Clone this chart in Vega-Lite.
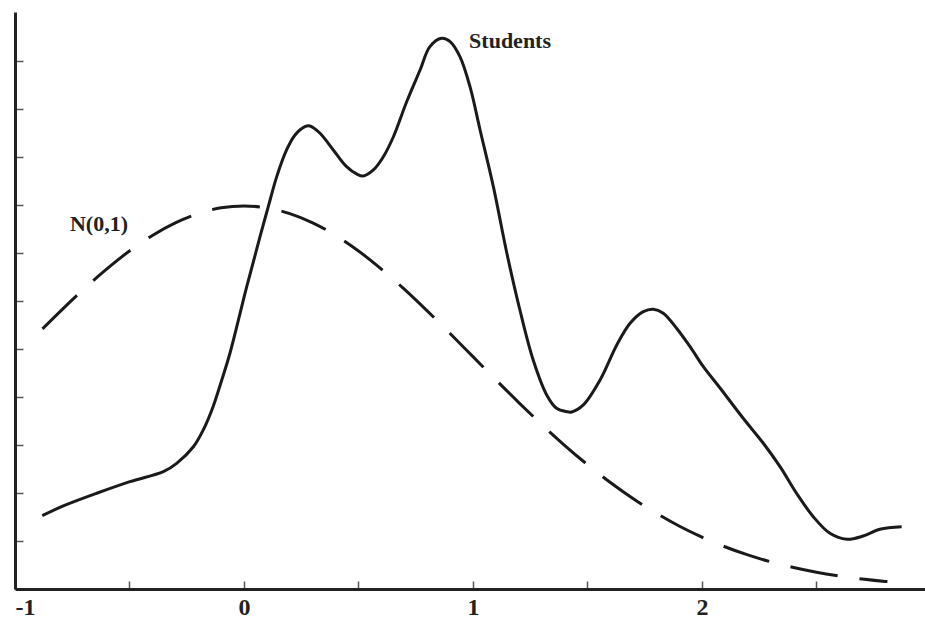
{
  "$schema": "https://vega.github.io/schema/vega-lite/v6.json",
  "width": 910,
  "height": 577,
  "autosize": "none",
  "padding": {"left": 15, "top": 12, "right": 0, "bottom": 33},
  "background": "white",
  "config": {"view": {"stroke": null}},
  "datasets": {
    "students": [
      {"x": -0.881, "y": 0.0764}, {"x": -0.789, "y": 0.0865}, {"x": -0.643, "y": 0.0997},
      {"x": -0.498, "y": 0.1118}, {"x": -0.352, "y": 0.1222}, {"x": -0.294, "y": 0.1309},
      {"x": -0.221, "y": 0.1482}, {"x": -0.178, "y": 0.1656}, {"x": -0.135, "y": 0.1899},
      {"x": -0.097, "y": 0.2177}, {"x": -0.061, "y": 0.2458}, {"x": 0.012, "y": 0.3149},
      {"x": 0.070, "y": 0.367}, {"x": 0.106, "y": 0.3982}, {"x": 0.143, "y": 0.4295},
      {"x": 0.186, "y": 0.4573}, {"x": 0.223, "y": 0.4729}, {"x": 0.266, "y": 0.4816},
      {"x": 0.288, "y": 0.4823}, {"x": 0.332, "y": 0.4747}, {"x": 0.390, "y": 0.4573},
      {"x": 0.448, "y": 0.4399}, {"x": 0.492, "y": 0.4323}, {"x": 0.521, "y": 0.4302},
      {"x": 0.565, "y": 0.4365}, {"x": 0.608, "y": 0.4500}, {"x": 0.652, "y": 0.4708},
      {"x": 0.710, "y": 0.5073}, {"x": 0.769, "y": 0.5406}, {"x": 0.812, "y": 0.5649},
      {"x": 0.863, "y": 0.5736}, {"x": 0.900, "y": 0.5701}, {"x": 0.943, "y": 0.5545},
      {"x": 0.987, "y": 0.5232}, {"x": 1.031, "y": 0.4781}, {"x": 1.089, "y": 0.4191},
      {"x": 1.148, "y": 0.3497}, {"x": 1.205, "y": 0.2906}, {"x": 1.263, "y": 0.2385},
      {"x": 1.322, "y": 0.2021}, {"x": 1.365, "y": 0.1882}, {"x": 1.409, "y": 0.1847},
      {"x": 1.431, "y": 0.1844}, {"x": 1.482, "y": 0.1917}, {"x": 1.555, "y": 0.2177},
      {"x": 1.628, "y": 0.2542}, {"x": 1.686, "y": 0.2768}, {"x": 1.744, "y": 0.2889},
      {"x": 1.787, "y": 0.2914}, {"x": 1.831, "y": 0.2872}, {"x": 1.889, "y": 0.2716},
      {"x": 1.948, "y": 0.2524}, {"x": 2.006, "y": 0.2316}, {"x": 2.079, "y": 0.2094},
      {"x": 2.180, "y": 0.1778}, {"x": 2.268, "y": 0.1518}, {"x": 2.341, "y": 0.1274},
      {"x": 2.413, "y": 0.0997}, {"x": 2.486, "y": 0.0753}, {"x": 2.559, "y": 0.058},
      {"x": 2.632, "y": 0.0518}, {"x": 2.704, "y": 0.0552}, {"x": 2.777, "y": 0.0622},
      {"x": 2.872, "y": 0.0649}
    ],
    "normal": [
      {"x": -0.88, "y": 0.2709}, {"x": -0.8, "y": 0.2897}, {"x": -0.7, "y": 0.3123},
      {"x": -0.6, "y": 0.3332}, {"x": -0.5, "y": 0.3521}, {"x": -0.4, "y": 0.3683},
      {"x": -0.3, "y": 0.3814}, {"x": -0.2, "y": 0.391}, {"x": -0.1, "y": 0.397},
      {"x": 0.0, "y": 0.3989}, {"x": 0.1, "y": 0.397}, {"x": 0.2, "y": 0.391},
      {"x": 0.3, "y": 0.3814}, {"x": 0.4, "y": 0.3683}, {"x": 0.5, "y": 0.3521},
      {"x": 0.6, "y": 0.3332}, {"x": 0.7, "y": 0.3123}, {"x": 0.8, "y": 0.2897},
      {"x": 0.9, "y": 0.2661}, {"x": 1.0, "y": 0.242}, {"x": 1.1, "y": 0.2179},
      {"x": 1.2, "y": 0.1942}, {"x": 1.3, "y": 0.1714}, {"x": 1.4, "y": 0.1497},
      {"x": 1.5, "y": 0.1295}, {"x": 1.6, "y": 0.1109}, {"x": 1.7, "y": 0.094},
      {"x": 1.8, "y": 0.079}, {"x": 1.9, "y": 0.0656}, {"x": 2.0, "y": 0.054},
      {"x": 2.1, "y": 0.044}, {"x": 2.2, "y": 0.0355}, {"x": 2.3, "y": 0.0283},
      {"x": 2.4, "y": 0.0224}, {"x": 2.5, "y": 0.0175}, {"x": 2.6, "y": 0.0136},
      {"x": 2.7, "y": 0.0104}, {"x": 2.8, "y": 0.0079}, {"x": 2.81, "y": 0.0077}
    ],
    "labels": [
      {"x": 0.983, "y": 0.5635, "text": "Students"},
      {"x": -0.76, "y": 0.373, "text": "N(0,1)"}
    ]
  },
  "encoding": {
    "x": {
      "field": "x", "type": "quantitative",
      "scale": {"domain": [-1, 2.974], "nice": false, "zero": false},
      "axis": {
        "title": null, "grid": false,
        "values": [-1, -0.5, 0, 0.5, 1, 1.5, 2, 2.5],
        "labelExpr": "datum.value % 1 === 0 ? '' + datum.value : ''",
        "domainColor": "#222", "domainWidth": 3,
        "tickColor": "#555", "tickWidth": 1.5, "tickSize": -8,
        "labelFont": "Liberation Serif", "labelFontWeight": "bold", "labelFontSize": 24,
        "labelColor": "#222", "labelPadding": 14, "labelBaseline": "top"
      }
    },
    "y": {
      "field": "y", "type": "quantitative",
      "scale": {"domain": [0, 0.601], "nice": false},
      "axis": {
        "title": null, "grid": false, "labels": false,
        "values": [0.05, 0.1, 0.15, 0.2, 0.25, 0.3, 0.35, 0.4, 0.45, 0.5, 0.55],
        "domainColor": "#222", "domainWidth": 3,
        "tickColor": "#555", "tickWidth": 1.5, "tickSize": -8
      }
    }
  },
  "layer": [
    {
      "data": {"name": "normal"},
      "mark": {"type": "line", "color": "#1a1a1a", "strokeWidth": 3, "strokeDash": [48, 22], "interpolate": "monotone"}
    },
    {
      "data": {"name": "students"},
      "mark": {"type": "line", "color": "#1a1a1a", "strokeWidth": 3, "interpolate": "catmull-rom"}
    },
    {
      "data": {"name": "labels"},
      "mark": {"type": "text", "align": "left", "baseline": "alphabetic", "font": "Liberation Serif", "fontWeight": "bold", "fontSize": 22, "color": "#222"},
      "encoding": {"text": {"field": "text"}}
    }
  ]
}
